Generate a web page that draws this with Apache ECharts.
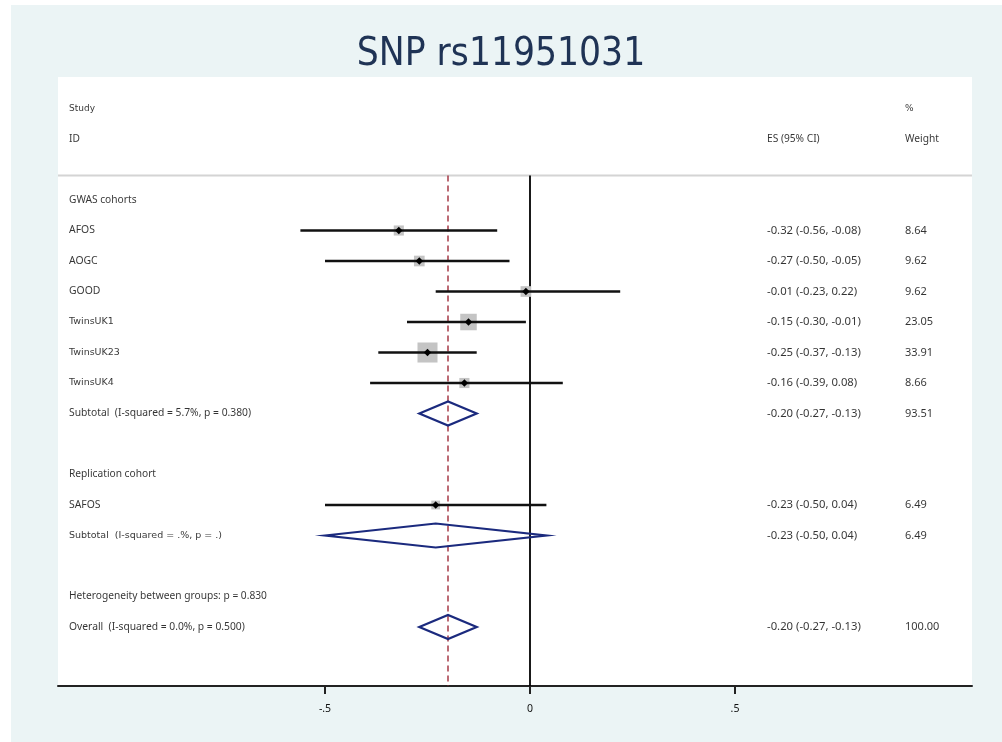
<!DOCTYPE html>
<html>
<head>
<meta charset="utf-8">
<script src="https://cdn.jsdelivr.net/npm/echarts@6/dist/echarts.min.js"></script>
<style>
html,body{margin:0;padding:0;background:#ffffff;}
#chart{width:1002px;height:742px;}
</style>
</head>
<body>
<div id="chart"></div>
<script>
// ---- data ----
const studyNames = ['AFOS', 'AOGC', 'GOOD', 'TwinsUK1', 'TwinsUK23', 'TwinsUK4', 'SAFOS'];
const studyRows = [1, 2, 3, 4, 5, 6, 10];
const studyES = [-0.32, -0.27, -0.01, -0.15, -0.25, -0.16, -0.23];
const studyLo = [-0.56, -0.50, -0.23, -0.30, -0.37, -0.39, -0.50];
const studyHi = [-0.08, -0.05, 0.22, -0.01, -0.13, 0.08, 0.04];
const studyWeight = [8.64, 9.62, 9.62, 23.05, 33.91, 8.66, 6.49];

const pooledNames = ['Subtotal  (I-squared = 5.7%, p = 0.380)', 'Subtotal  (I-squared = .%, p = .)', 'Overall  (I-squared = 0.0%, p = 0.500)'];
const pooledRows = [7, 11, 14];
const pooledES = [-0.20, -0.23, -0.20];
const pooledLo = [-0.27, -0.50, -0.27];
const pooledHi = [-0.13, 0.04, -0.13];
const pooledWeight = [93.51, 6.49, 100.00];

const groupHeaders = ['GWAS cohorts', 'Replication cohort', 'Heterogeneity between groups: p = 0.830'];
const groupRows = [0, 9, 13];

const tickValues = [-0.5, 0, 0.5];
const tickLabels = ['-.5', '0', '.5'];
const overallES = -0.20;

// ---- layout helpers ----
const X_MIN = -472 / 410, X_MAX = 442 / 410;
const Y_MIN = -4.033, Y_MAX = 15.934;
const SEP_ROW = -0.8;
const LEFT_X = (69 - 530) / 410;
const ES_X = (767 - 530) / 410;
const WT_X = (905 - 530) / 410;
const FONT = '"Noto Sans", "DejaVu Sans", sans-serif';
const FONT_ALT = '"DejaVu Sans", "Noto Sans", sans-serif';
const altNames = ['Study', '%', 'TwinsUK1', 'TwinsUK23', 'TwinsUK4', 'Subtotal  (I-squared = .%, p = .)'];

function fmtCI(e, l, h) {
  return e.toFixed(2) + ' (' + l.toFixed(2) + ', ' + h.toFixed(2) + ')';
}

const textItems = [];
function addText(x, row, txt, size) {
  const alt = altNames.includes(txt);
  textItems.push({
    value: [x, row], name: txt,
    label: { fontSize: alt ? (txt === 'Study' || txt === '%' ? 9 : 9.5) : size, fontFamily: alt ? FONT_ALT : FONT }
  });
}
// header
addText(LEFT_X, -3, 'Study', 9);
addText(LEFT_X, -2, 'ID', 10.2);
addText(ES_X, -2, 'ES (95% CI)', 10.2);
addText(WT_X, -3, '%', 9);
addText(WT_X, -2, 'Weight', 10.2);
groupHeaders.forEach((g, i) => addText(LEFT_X, groupRows[i], g, 10.2));
studyNames.forEach((n, i) => {
  addText(LEFT_X, studyRows[i], n, 10.4);
  addText(ES_X, studyRows[i], fmtCI(studyES[i], studyLo[i], studyHi[i]), 11.3);
  addText(WT_X, studyRows[i], studyWeight[i].toFixed(2), 11);
});
pooledNames.forEach((n, i) => {
  addText(LEFT_X, pooledRows[i], n, 10.3);
  addText(ES_X, pooledRows[i], fmtCI(pooledES[i], pooledLo[i], pooledHi[i]), 11.3);
  addText(WT_X, pooledRows[i], pooledWeight[i].toFixed(2), 11);
});

const studyData = studyNames.map((n, i) => [studyES[i], studyLo[i], studyHi[i], studyWeight[i], studyRows[i]]);
const pooledData = pooledNames.map((n, i) => [pooledES[i], pooledLo[i], pooledHi[i], pooledRows[i]]);

const chart = echarts.init(document.getElementById('chart'));
chart.setOption({
  backgroundColor: '#ffffff',
  animation: false,
  graphic: [{
    type: 'rect', z: -10, silent: true,
    shape: { x: 11, y: 5, width: 991, height: 737 },
    style: { fill: '#ebf4f5' }
  }],
  title: {
    text: 'SNP rs11951031',
    left: 'center',
    top: 30,
    textStyle: { color: '#1f3355', fontSize: 38.5, fontWeight: 'normal', fontFamily: '"Liberation Sans Narrow", "DejaVu Sans Condensed", sans-serif' }
  },
  grid: {
    left: 58, right: 30, top: 77, bottom: 56,
    show: true, backgroundColor: '#ffffff', borderWidth: 0
  },
  xAxis: {
    type: 'value', min: X_MIN, max: X_MAX,
    splitLine: { show: false },
    axisLine: { show: true, onZero: false, lineStyle: { color: '#222', width: 2 } },
    axisTick: { show: true, customValues: tickValues, length: 8, lineStyle: { color: '#222', width: 2 } },
    axisLabel: {
      customValues: tickValues, margin: 18, color: '#111', fontSize: 10.5, fontFamily: FONT,
      formatter: v => tickLabels[tickValues.indexOf(v)] ?? ''
    }
  },
  yAxis: { type: 'value', inverse: true, min: Y_MIN, max: Y_MAX, show: false },
  series: [
    { // separator line under header
      type: 'line', silent: true, symbol: 'none', z: 1,
      data: [[X_MIN, SEP_ROW], [X_MAX, SEP_ROW]],
      lineStyle: { color: '#d4d4d4', width: 2 }
    },
    { // null line
      type: 'line', silent: true, symbol: 'none', z: 2,
      data: [[0, SEP_ROW], [0, Y_MAX]],
      lineStyle: { color: '#000', width: 1.8 }
    },
    { // overall effect line
      type: 'line', silent: true, symbol: 'none', z: 2,
      data: [[overallES, SEP_ROW], [overallES, Y_MAX]],
      lineStyle: { color: '#a02c3a', width: 1.4, type: [6, 4] }
    },
    { // study estimates
      type: 'custom', z: 3, silent: true,
      encode: { x: [0, 1, 2], y: 4 },
      data: studyData,
      renderItem: (params, api) => {
        const row = api.value(4);
        const c = api.coord([api.value(0), row]);
        const l = api.coord([api.value(1), row]);
        const h = api.coord([api.value(2), row]);
        const s = 3.44 * Math.sqrt(api.value(3));
        const d = 3.7;
        return {
          type: 'group',
          children: [
            { type: 'rect', shape: { x: c[0] - s / 2, y: c[1] - s / 2, width: s, height: s }, style: { fill: '#c4c4c4' } },
            { type: 'line', shape: { x1: l[0], y1: l[1], x2: h[0], y2: h[1] }, style: { stroke: '#111', lineWidth: 2.5 } },
            { type: 'polygon', shape: { points: [[c[0] - d, c[1]], [c[0], c[1] - d], [c[0] + d, c[1]], [c[0], c[1] + d]] }, style: { fill: '#000' } }
          ]
        };
      }
    },
    { // pooled diamonds
      type: 'custom', z: 3, silent: true,
      encode: { x: [0, 1, 2], y: 3 },
      data: pooledData,
      renderItem: (params, api) => {
        const row = api.value(3);
        const c = api.coord([api.value(0), row]);
        const l = api.coord([api.value(1), row]);
        const h = api.coord([api.value(2), row]);
        const hh = 12;
        return {
          type: 'polygon',
          shape: { points: [[l[0], c[1]], [c[0], c[1] - hh], [h[0], c[1]], [c[0], c[1] + hh]] },
          style: { fill: 'rgba(0,0,0,0)', stroke: '#1b2a7e', lineWidth: 2.2 }
        };
      }
    },
    { // text columns
      type: 'scatter', z: 4, silent: true, symbolSize: 0,
      data: textItems,
      label: {
        show: true, position: 'right', distance: 0,
        color: '#000', fontFamily: FONT,
        formatter: p => p.name
      }
    }
  ]
});
</script>
</body>
</html>
